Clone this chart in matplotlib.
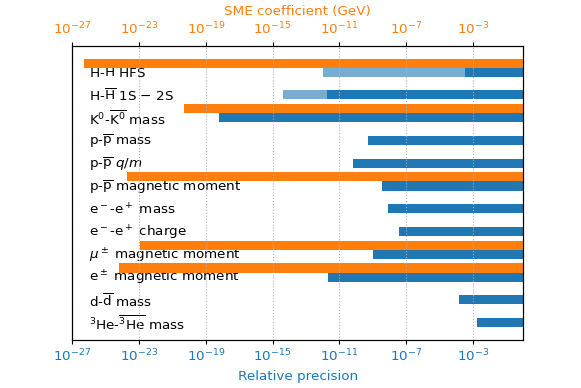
import numpy as np
import matplotlib
matplotlib.use('Agg')
import matplotlib.pyplot as plt

plt.rcParams['font.size'] = 9.7
plt.rcParams['xtick.major.size'] = 3
plt.rcParams['xtick.major.pad'] = 3

# measurements, top to bottom
labels = [
    r"H-$\overline{\mathrm{H}}$ HFS",
    r"H-$\overline{\mathrm{H}}$ 1S $-$ 2S",
    r"K$^0$-$\overline{\mathrm{K}^0}$ mass",
    r"p-$\overline{\mathrm{p}}$ mass",
    r"p-$\overline{\mathrm{p}}$ $q/m$",
    r"p-$\overline{\mathrm{p}}$ magnetic moment",
    r"e$^-$-e$^+$ mass",
    r"e$^-$-e$^+$ charge",
    r"$\mu^\pm$ magnetic moment",
    r"e$^\pm$ magnetic moment",
    r"d-$\overline{\mathrm{d}}$ mass",
    r"$^3$He-$\overline{^3\mathrm{He}}$ mass",
]

# relative precision (blue)
precision = [3.6e-4, 1.9e-12, 6e-19, 5e-10, 6.6e-11, 3.7e-9,
             8e-9, 3.7e-8, 1.1e-9, 2e-12, 1.4e-4, 1.7e-3]
# projected precision (light blue), None = no bar
projected = [1e-12, 4e-15, None, None, None, None,
             None, None, None, None, None, None]
# SME coefficient in GeV (orange), None = no bar
sme = [5e-27, None, 5e-21, None, None, 1.8e-24,
       None, None, 1.1e-23, 6e-25, None, None]

xmin, xmax = 1e-27, 1.0
h = 0.4

fig = plt.figure(figsize=(5.81, 3.88), dpi=100)
ax = fig.add_axes([0.1245, 0.1245, 0.7755, 0.757])

for i, lab in enumerate(labels):
    if projected[i] is not None:
        ax.barh(i, xmax - projected[i], left=projected[i], height=h,
                color='tab:blue', alpha=0.6)
    ax.barh(i, xmax - precision[i], left=precision[i], height=h,
            color='tab:blue')
    ax.text(1e-26, i + 0.05, lab, va='center', ha='left')

ax.set_xscale('log')
ax.set_xlim(xmin, xmax)
ax.set_ylim(11.75, -1.15)
ax.set_yticks([])
ticks = 10.0 ** np.arange(-27, 0, 4)
ax.set_xticks(ticks)
ax.xaxis.set_minor_locator(matplotlib.ticker.NullLocator())
ax.tick_params(axis='x', labelcolor='tab:blue')
ax.set_xlabel('Relative precision', color='tab:blue')

# SME bars on a twin axis so they draw over the labels
ax2 = ax.twiny()
for i in range(len(labels)):
    if sme[i] is not None:
        ax2.barh(i - h, xmax - sme[i], left=sme[i], height=h,
                 color='tab:orange')
ax2.set_xscale('log')
ax2.set_xlim(xmin, xmax)
ax2.set_xticks(ticks)
ax2.xaxis.set_minor_locator(matplotlib.ticker.NullLocator())
ax2.tick_params(axis='x', labelcolor='tab:orange')
ax2.set_xlabel('SME coefficient (GeV)', color='tab:orange')
ax2.grid(axis='x', linestyle=':', color='#b0b0b0')

fig.savefig('out.png', dpi=100)
